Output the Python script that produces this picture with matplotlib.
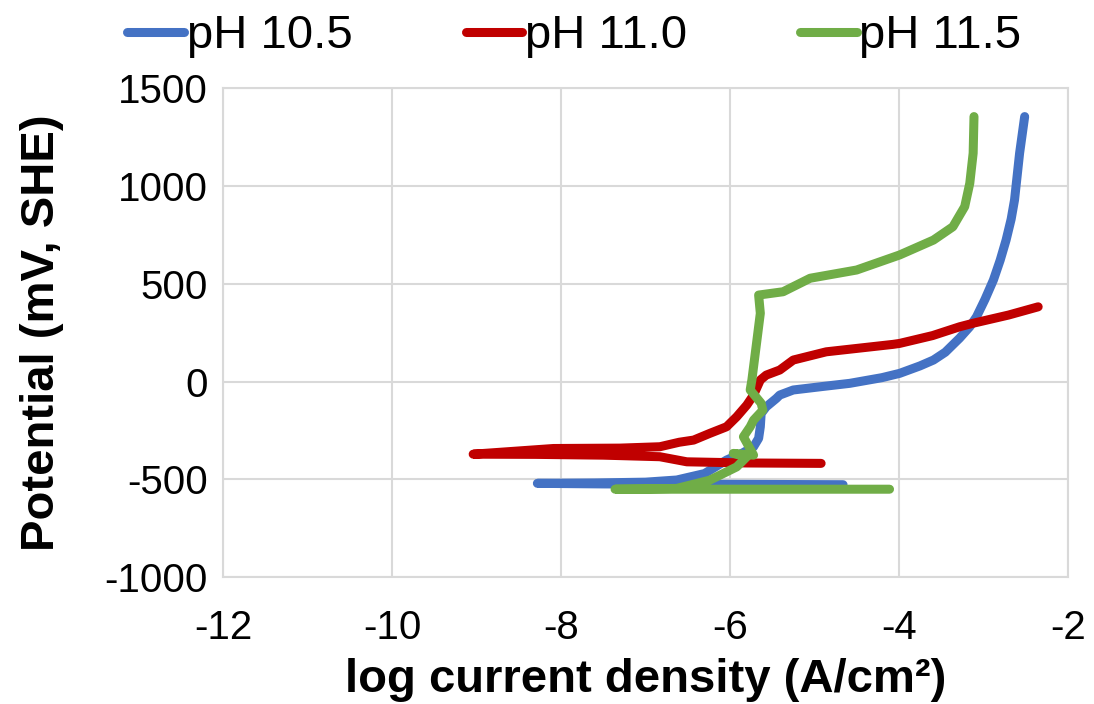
import matplotlib.pyplot as plt

plt.rcParams['font.family'] = ['Liberation Sans', 'DejaVu Sans']
plt.rcParams['axes.unicode_minus'] = False

# log current density (A/cm2) and potential (mV, SHE)
ph105_x = [-4.66, -6.0, -7.5, -8.28, -7.6, -7.0, -6.63, -6.3, -6.04, -5.85, -5.72, -5.66, -5.64,
           -5.63, -5.57, -5.45, -5.41, -5.25, -4.9, -4.58, -4.2, -3.99, -3.75, -3.59, -3.45,
           -3.28, -3.16, -3.08, -2.98, -2.88, -2.80, -2.73, -2.67, -2.63, -2.57, -2.51]
ph105_y = [-527, -525, -523, -520, -518, -514, -503, -470, -401, -365, -333, -290, -231,
           -163, -129, -86, -69, -43, -25, -9, 20, 42, 80, 110, 150,
           222, 280, 331, 420, 519, 620, 723, 830, 928, 1167, 1354]

ph110_x = [-4.92, -5.8, -6.51, -6.83, -7.5, -8.3, -9.04, -8.09, -7.3, -6.83, -6.6, -6.43, -6.24,
           -6.04, -5.92, -5.80, -5.72, -5.64, -5.57, -5.41, -5.25, -4.86, -4.07, -3.99, -3.6,
           -3.28, -3.12, -2.7, -2.35]
ph110_y = [-418, -416, -410, -384, -376, -372, -371, -342, -340, -333, -310, -299, -265,
           -231, -180, -120, -69, 8, 33, 59, 110, 152, 190, 195, 235,
           280, 298, 340, 382]

ph115_x = [-4.11, -6.0, -7.36, -6.63, -6.24, -5.92, -5.80, -5.96, -5.72, -5.84, -5.76, -5.72,
           -5.61, -5.63, -5.76, -5.74, -5.69, -5.64, -5.66, -5.37, -5.05, -4.50, -3.99, -3.59,
           -3.36, -3.22, -3.16, -3.12, -3.11]
ph115_y = [-550, -550, -550, -546, -504, -436, -384, -367, -376, -282, -231, -197,
           -146, -111, -43, 8, 178, 349, 442, 459, 528, 570, 647, 723,
           791, 894, 1013, 1167, 1354]

labels = ['pH 10.5', 'pH 11.0', 'pH 11.5']
colors = ['#4472C4', '#C00000', '#70AD47']

fig = plt.figure(figsize=(10.94, 7.04), dpi=100)
ax = fig.add_axes([0.204, 0.180, 0.772, 0.695])

for xs, ys, lab, c in zip([ph105_x, ph110_x, ph115_x], [ph105_y, ph110_y, ph115_y], labels, colors):
    ax.plot(xs, ys, color=c, lw=6.5, label=lab, solid_capstyle='round', solid_joinstyle='round')

ax.set_xlim(-12, -2)
ax.set_ylim(-1000, 1500)
ax.set_xticks(range(-12, -1, 2))
ax.set_yticks(range(-1000, 1501, 500))
ax.grid(True, color='#D9D9D9', lw=1.5)
ax.set_axisbelow(True)
for s in ax.spines.values():
    s.set_color('#D9D9D9')
    s.set_linewidth(1.5)
ax.tick_params(length=0, labelsize=29)
ax.tick_params(axis='y', pad=11)
ax.tick_params(axis='x', pad=23)
ax.set_xlabel('log current density (A/cm²)', fontsize=34, fontweight='bold')
ax.set_ylabel('Potential (mV, SHE)', fontsize=34, fontweight='bold')
ax.xaxis.set_label_coords(0.5, -0.165)
ax.yaxis.set_label_coords(-0.188, 0.5)

fig.legend(loc='upper center', bbox_to_anchor=(0.525, 1.04), ncol=3, frameon=False,
           fontsize=34, handlelength=1.2, handletextpad=0.05, columnspacing=2.4)

fig.savefig('out.png', dpi=100)
